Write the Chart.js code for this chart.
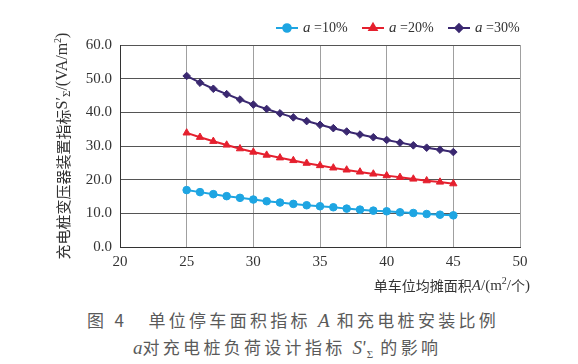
<!DOCTYPE html>
<html>
<head>
<meta charset="utf-8">
<script src="https://cdn.jsdelivr.net/npm/chart.js@4/dist/chart.umd.min.js"></script>
<style>
  html, body { margin: 0; padding: 0; background: #fff; }
  #wrap { position: relative; width: 578px; height: 364px; overflow: hidden; }
  #c { position: absolute; left: 0; top: 0; }
  .cap { position: absolute; font-family: 'Noto Sans CJK SC', sans-serif; font-size: 17px; line-height: 20px; color: #5a5a5a; white-space: nowrap; letter-spacing: 3.3px; }
  .cap i { font-family: 'Liberation Serif', serif; font-size: 19px; letter-spacing: 0; }
  .cap sub { font-family: 'Liberation Serif', serif; font-size: 11px; letter-spacing: 0; }
</style>
</head>
<body>
<div id="wrap">
  <canvas id="c" width="578" height="300"></canvas>
  <div class="cap" style="left:87px;top:310px">图 4&nbsp;&nbsp; 单位停车面积指标 <i>A</i> 和充电桩安装比例</div>
  <div class="cap" style="left:133px;top:337px"><i>a</i>对充电桩负荷设计指标 <i>S</i><span style="letter-spacing:0">′</span><sub>Σ</sub> 的影响</div>
</div>
<script>
'use strict';

var areas = [25, 26, 27, 28, 29, 30, 31, 32, 33, 34, 35, 36, 37, 38, 39, 40, 41, 42, 43, 44, 45];
var s10 = [16.9, 16.3, 15.7, 15.1, 14.6, 14.1, 13.6, 13.2, 12.8, 12.4, 12.1, 11.8, 11.4, 11.1, 10.8, 10.6, 10.3, 10.1, 9.8, 9.6, 9.4];
var s20 = [33.9, 32.6, 31.4, 30.3, 29.2, 28.2, 27.3, 26.5, 25.7, 24.9, 24.2, 23.5, 22.9, 22.3, 21.7, 21.2, 20.7, 20.2, 19.7, 19.3, 18.8];
var s30 = [50.8, 48.8, 47.0, 45.4, 43.8, 42.3, 41.0, 39.7, 38.5, 37.4, 36.3, 35.3, 34.3, 33.4, 32.6, 31.8, 31.0, 30.2, 29.5, 28.9, 28.2];
var seriesNames = ['10%', '20%', '30%'];

var serif = "'Liberation Serif', 'Times New Roman', serif";
var cjk = "'Noto Sans CJK SC', sans-serif";
var colors = ['#1ea5e2', '#e5202e', '#3a2870'];
var markers = ['circle', 'triangle', 'rectRot'];
var radii = [3.8, 4.2, 3.8];

function pts(vals) {
  return areas.map(function (a, i) { return { x: a, y: vals[i] }; });
}

function drawRich(ctx, segs, x, y, align) {
  var total = 0;
  segs.forEach(function (s) { ctx.font = s.f; s.w = ctx.measureText(s.t).width; total += s.w; });
  var cx = align === 'center' ? x - total / 2 : align === 'right' ? x - total : x;
  ctx.textBaseline = 'middle';
  ctx.textAlign = 'left';
  segs.forEach(function (s) {
    ctx.font = s.f;
    ctx.fillText(s.t, cx, y + (s.dy || 0));
    cx += s.w;
  });
}

var textPlugin = {
  id: 'texts',
  afterDraw: function (chart) {
    var ctx = chart.ctx;
    ctx.save();
    ctx.fillStyle = '#333';

    // y axis title
    ctx.save();
    ctx.translate(63, 146);
    ctx.rotate(-Math.PI / 2);
    drawRich(ctx, [
      { t: '充电桩变压器装置指标', f: '15px ' + cjk },
      { t: 'S′', f: '16px ' + serif },
      { t: 'Σ', f: '11px ' + serif, dy: 4 },
      { t: '/(VA/m', f: '16px ' + serif },
      { t: '2', f: '10px ' + serif, dy: -5 },
      { t: ')', f: '16px ' + serif }
    ], 0, 0, 'center');
    ctx.restore();

    // x axis title
    drawRich(ctx, [
      { t: '单车位均摊面积', f: '14px ' + cjk },
      { t: 'A', f: 'italic 15px ' + serif },
      { t: '/(m', f: '15px ' + serif },
      { t: '2', f: '10px ' + serif, dy: -5 },
      { t: '/', f: '15px ' + serif },
      { t: '个', f: '14px ' + cjk },
      { t: ')', f: '15px ' + serif }
    ], 530, 286, 'right');

    // legend
    var starts = [276, 362, 448];
    for (var i = 0; i < 3; i++) {
      var lx = starts[i];
      ctx.strokeStyle = colors[i];
      ctx.fillStyle = colors[i];
      ctx.lineWidth = 2;
      ctx.beginPath();
      ctx.moveTo(lx, 28);
      ctx.lineTo(lx + 22, 28);
      ctx.stroke();
      Chart.helpers.drawPoint(ctx, { pointStyle: markers[i], radius: radii[i], rotation: 0, borderWidth: 1 }, lx + 11, 28);
      ctx.fillStyle = '#333';
      drawRich(ctx, [
        { t: 'a', f: 'italic 15px ' + serif },
        { t: ' =' + seriesNames[i], f: '14px ' + serif }
      ], lx + 27, 28, 'left');
    }
    ctx.restore();
  }
};

var datasets = [s10, s20, s30].map(function (vals, i) {
  return {
    label: 'a=' + seriesNames[i],
    data: pts(vals),
    borderColor: colors[i],
    backgroundColor: colors[i],
    borderWidth: 2,
    pointStyle: markers[i],
    pointRadius: radii[i],
    pointBorderWidth: 1,
    tension: 0
  };
});

new Chart(document.getElementById('c'), {
  type: 'line',
  data: { datasets: datasets },
  options: {
    responsive: false,
    animation: false,
    layout: { padding: { top: 45, right: 58, left: 0, bottom: 0 } },
    plugins: {
      legend: { display: false },
      title: { display: false },
      tooltip: { enabled: false }
    },
    scales: {
      x: {
        type: 'linear',
        min: 20,
        max: 50,
        ticks: { stepSize: 5, color: '#333', padding: 6, font: { family: serif, size: 15 } },
        grid: { color: '#a0a0a0', drawTicks: false },
        border: { color: '#333', width: 1 },
        afterFit: function (s) { s.height = 53; }
      },
      y: {
        min: 0,
        max: 60,
        ticks: {
          stepSize: 10,
          color: '#333',
          padding: 8,
          font: { family: serif, size: 15 },
          callback: function (v) { return v.toFixed(1); }
        },
        grid: { color: '#555', drawTicks: false },
        border: { color: '#333', width: 1 },
        afterFit: function (s) { s.width = 120; }
      }
    }
  },
  plugins: [textPlugin]
});
</script>
</body>
</html>
